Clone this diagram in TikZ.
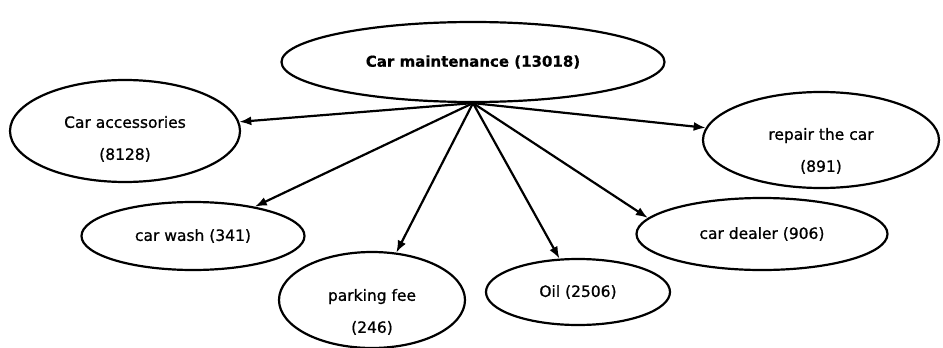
\documentclass[tikz,border=0pt]{standalone}
\usepackage{fontspec}
\setmainfont{DejaVu Sans}
% slightly heavier face for the ellipse captions
\newfontfamily\captionfont{DejaVu Sans}[FakeBold=0.9]
\newfontfamily\hubfont{DejaVu Sans Bold}[FakeBold=0.6]
\usetikzlibrary{shapes.geometric,arrows.meta}
% two-line caption, lowered by #1 inside its ellipse
\newcommand\captionpair[3]{\raisebox{#1}[0pt][0pt]{\begin{tabular}{@{}c@{}}#2\\#3\end{tabular}}}
\begin{document}
\begin{tikzpicture}[x=1pt,y=-1pt,
  topic/.style={ellipse,draw,line width=2.2pt,inner sep=0pt,align=center,
    font=\captionfont\fontsize{15.5}{32}\selectfont},
  hubtopic/.style={topic,font=\hubfont\fontsize{15}{31}\selectfont},
  link/.style={line width=2.2pt,-{Latex[length=12pt,width=9pt]}}]
\useasboundingbox (0,0) rectangle (943,348);

% central topic
\node[hubtopic,minimum width=383pt,minimum height=80pt] (main) at (473,62) {Car maintenance (13018)};

% sub-topics
\node[topic,minimum width=230pt,minimum height=102pt] (acc) at (125,131) {\captionpair{-10pt}{Car accessories}{(8128)}};
\node[topic,minimum width=236pt,minimum height=96pt] (repair) at (821,140) {\captionpair{-13pt}{repair the car}{(891)}};
\node[topic,minimum width=223pt,minimum height=68pt] (wash) at (193,236) {car wash (341)};
\node[topic,minimum width=251pt,minimum height=72pt] (dealer) at (762,234) {car dealer (906)};
\node[topic,minimum width=186pt,minimum height=96pt] (parking) at (372,300) {\captionpair{-14pt}{parking fee}{(246)}};
\node[topic,minimum width=184pt,minimum height=66pt] (oil) at (578,292) {Oil (2506)};

% arrows from the central topic
\draw[link] (main.south) -- (acc);
\draw[link] (main.south) -- (repair);
\draw[link] (main.south) -- (wash);
\draw[link] (main.south) -- (parking);
\draw[link] (main.south) -- (oil);
\draw[link] (main.south) -- (dealer.172);
\end{tikzpicture}
\end{document}
